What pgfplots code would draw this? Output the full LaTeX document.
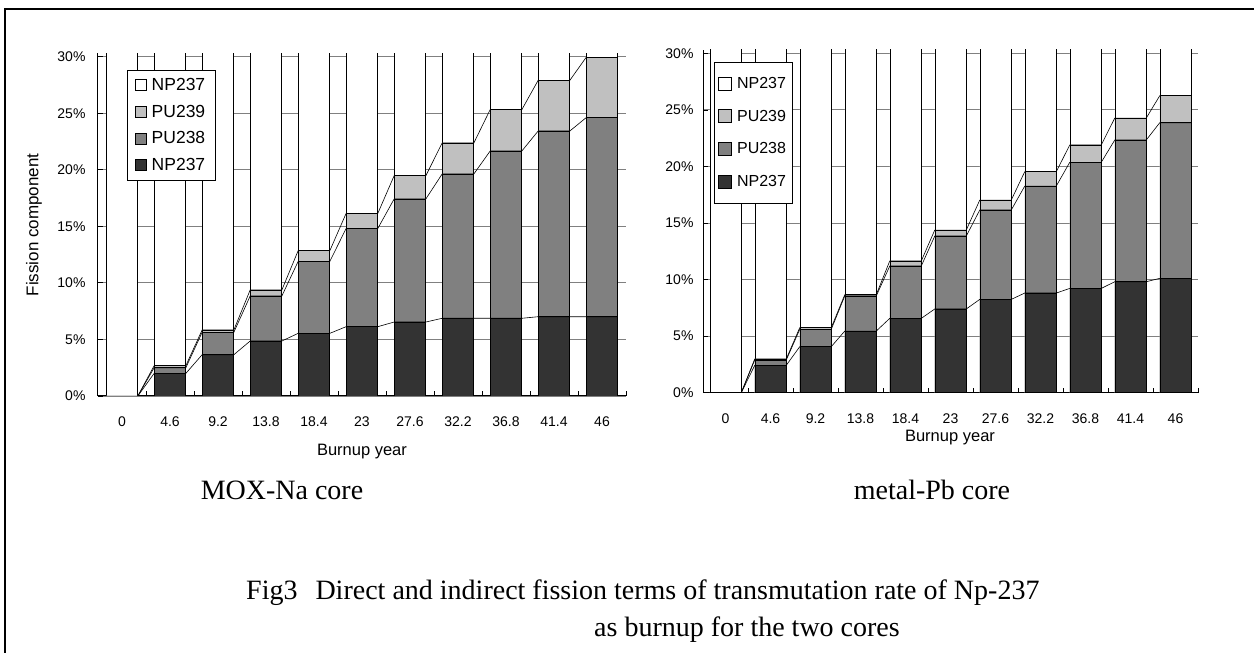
\documentclass[border=0pt]{standalone}
\usepackage{fontspec}
\setmainfont{Liberation Serif}
\newfontfamily\sansf{Liberation Sans}
\usepackage{pgfplots}
\pgfplotsset{compat=1.18}
\usepackage{pgfplotstable}

\definecolor{cNp} {HTML}{333333}
\definecolor{cPu8}{HTML}{808080}
\definecolor{cPu9}{HTML}{C0C0C0}
\definecolor{cGrid}{HTML}{808080}

% cumulative tops of each stack (%), "all" = whole bar (100 %)
\pgfplotstableread{
x all np pu8 pu9
0 100 0.00 0.00 0.00
1 100 2.00 2.50 2.68
2 100 3.65 5.63 5.84
3 100 4.86 8.84 9.37
4 100 5.54 11.90 12.85
5 100 6.13 14.82 16.15
6 100 6.54 17.42 19.48
7 100 6.87 19.63 22.37
8 100 6.87 21.66 25.32
9 100 7.01 23.43 27.91
10 100 7.01 24.61 29.94
}\moxna

\pgfplotstableread{
x all np pu8 pu9
0 100 0.00 0.00 0.00
1 100 2.42 2.89 2.98
2 100 4.07 5.60 5.75
3 100 5.45 8.55 8.66
4 100 6.57 11.20 11.64
5 100 7.40 13.85 14.38
6 100 8.25 16.15 17.03
7 100 8.81 18.27 19.54
8 100 9.22 20.37 21.90
9 100 9.81 22.34 24.28
10 100 10.11 23.87 26.26
}\metalpb

\pgfplotsset{
  corebase/.style={
    scale only axis,
    height = 342.7pt,
    xmin = -0.5, xmax = 10.5,
    ymin = 0,    ymax = 30.3,
    axis x line* = bottom,
    axis y line* = left,
    axis line style = {black, line width=1pt},
    xtick = {0.5,1.5,...,10.5},
    xticklabels = {},
    extra x ticks = {0,...,10},
    extra x tick labels = {0,4.6,9.2,13.8,18.4,23,27.6,32.2,36.8,41.4,46},
    extra x tick style = {major tick length=0pt, grid=none},
    ytick = {0,5,...,30},
    yticklabel = {\pgfmathprintnumber{\tick}\%},
    /pgf/number format/assume math mode=true,
    ymajorgrids,
    grid style = {cGrid, line width=0.9pt},
    tick align = inside,
    major tick length = 5pt,
    tick style = {black, line width=0.8pt},
    tick label style = {font=\sansf\fontsize{14}{16}\selectfont},
    xticklabel style = {anchor=center, yshift=-26pt},
    legend cell align = left,
  },
  stackbar/.style={
    ybar, bar shift=0pt, draw=black, line width=0.8pt,
  },
  serline/.style={sharp plot, black, line width=0.6pt, forget plot},
}

\begin{document}
\begin{tikzpicture}[x=1pt,y=1pt]
\useasboundingbox (0,0) rectangle (1254,653);
\draw[black, line width=1.5pt] (5,-10) rectangle (1270,644);

% ---------------- left: MOX-Na core ----------------
\begin{axis}[
  corebase,
  at = {(98pt,257pt)}, anchor = south west,
  width = 528pt,
  bar width = 0.66,
  yticklabel style = {xshift=-9pt},
  legend image code/.code={
    \draw[#1,/tikz/.cd,yshift=-5.5pt] (4pt,0pt) rectangle (15pt,11pt);},
  legend style = {
    at = {(0.054,0.952)}, anchor = north west,
    draw = black, line width = 0.8pt, fill = white,
    font = \sansf\fontsize{17.5}{19}\selectfont,
    row sep = 9pt, inner xsep = 8pt, inner ysep = 6pt,
    /tikz/every odd column/.append style={column sep=3pt},
  },
]
\addplot[stackbar, fill=white] table[x=x, y=all] {\moxna};
\addlegendentry{NP237}
\addplot[stackbar, fill=cPu9] table[x=x, y=pu9] {\moxna};
\addlegendentry{PU239}
\addplot[stackbar, fill=cPu8] table[x=x, y=pu8] {\moxna};
\addlegendentry{PU238}
\addplot[stackbar, fill=cNp] table[x=x, y=np] {\moxna};
\addlegendentry{NP237}

% series lines between bars
\addplot[serline] coordinates {
  (0.33,0)(0.67,2.00)(1.33,2.00)(1.67,3.65)(2.33,3.65)(2.67,4.86)(3.33,4.86)
  (3.67,5.54)(4.33,5.54)(4.67,6.13)(5.33,6.13)(5.67,6.54)(6.33,6.54)
  (6.67,6.87)(7.33,6.87)(7.67,6.87)(8.33,6.87)(8.67,7.01)(9.33,7.01)(9.67,7.01)(10.33,7.01)};
\addplot[serline] coordinates {
  (0.33,0)(0.67,2.50)(1.33,2.50)(1.67,5.63)(2.33,5.63)(2.67,8.84)(3.33,8.84)
  (3.67,11.90)(4.33,11.90)(4.67,14.82)(5.33,14.82)(5.67,17.42)(6.33,17.42)
  (6.67,19.63)(7.33,19.63)(7.67,21.66)(8.33,21.66)(8.67,23.43)(9.33,23.43)(9.67,24.61)(10.33,24.61)};
\addplot[serline] coordinates {
  (0.33,0)(0.67,2.68)(1.33,2.68)(1.67,5.84)(2.33,5.84)(2.67,9.37)(3.33,9.37)
  (3.67,12.85)(4.33,12.85)(4.67,16.15)(5.33,16.15)(5.67,19.48)(6.33,19.48)
  (6.67,22.37)(7.33,22.37)(7.67,25.32)(8.33,25.32)(8.67,27.91)(9.33,27.91)(9.67,29.94)(10.33,29.94)};
\end{axis}

% ---------------- right: metal-Pb core ----------------
\begin{axis}[
  corebase,
  at = {(703pt,260.3pt)}, anchor = south west,
  width = 495pt,
  bar width = 0.69,
  yticklabel style = {xshift=-6pt},
  legend image code/.code={
    \draw[#1,/tikz/.cd,yshift=-6.5pt] (3pt,0pt) rectangle (16pt,13pt);},
  legend style = {
    at = {(0.022,0.965)}, anchor = north west,
    draw = black, line width = 0.8pt, fill = white,
    font = \sansf\fontsize{16}{18}\selectfont,
    row sep = 16pt, inner xsep = 4pt, inner ysep = 13pt,
    /tikz/every odd column/.append style={column sep=3pt},
  },
]
\addplot[stackbar, fill=white] table[x=x, y=all] {\metalpb};
\addlegendentry{NP237}
\addplot[stackbar, fill=cPu9] table[x=x, y=pu9] {\metalpb};
\addlegendentry{PU239}
\addplot[stackbar, fill=cPu8] table[x=x, y=pu8] {\metalpb};
\addlegendentry{PU238}
\addplot[stackbar, fill=cNp] table[x=x, y=np] {\metalpb};
\addlegendentry{NP237}

\addplot[serline] coordinates {
  (0.35,0)(0.65,2.42)(1.35,2.42)(1.65,4.07)(2.35,4.07)(2.65,5.45)(3.35,5.45)
  (3.65,6.57)(4.35,6.57)(4.65,7.40)(5.35,7.40)(5.65,8.25)(6.35,8.25)
  (6.65,8.81)(7.35,8.81)(7.65,9.22)(8.35,9.22)(8.65,9.81)(9.35,9.81)(9.65,10.11)(10.35,10.11)};
\addplot[serline] coordinates {
  (0.35,0)(0.65,2.89)(1.35,2.89)(1.65,5.60)(2.35,5.60)(2.65,8.55)(3.35,8.55)
  (3.65,11.20)(4.35,11.20)(4.65,13.85)(5.35,13.85)(5.65,16.15)(6.35,16.15)
  (6.65,18.27)(7.35,18.27)(7.65,20.37)(8.35,20.37)(8.65,22.34)(9.35,22.34)(9.65,23.87)(10.35,23.87)};
\addplot[serline] coordinates {
  (0.35,0)(0.65,2.98)(1.35,2.98)(1.65,5.75)(2.35,5.75)(2.65,8.66)(3.35,8.66)
  (3.65,11.64)(4.35,11.64)(4.65,14.38)(5.35,14.38)(5.65,17.03)(6.35,17.03)
  (6.65,19.54)(7.35,19.54)(7.65,21.90)(8.35,21.90)(8.65,24.28)(9.35,24.28)(9.65,26.26)(10.35,26.26)};
\end{axis}

% axis titles and captions
\node[rotate=90, font=\sansf\fontsize{17}{19}\selectfont] at (34,428) {Fission component};
\node[font=\sansf\fontsize{16.5}{18}\selectfont] at (362,201) {Burnup year};
\node[font=\sansf\fontsize{16.5}{18}\selectfont] at (950,215) {Burnup year};
\node[font=\fontsize{28}{30}\selectfont] at (282,163) {MOX-Na core};
\node[font=\fontsize{28}{30}\selectfont] at (932,163) {metal-Pb core};
\node[font=\fontsize{28}{30}\selectfont, anchor=west, inner sep=0pt] at (246,60)
  {Fig3\hspace{18pt}Direct and indirect fission terms of transmutation rate of Np-237};
\node[font=\fontsize{28}{30}\selectfont, anchor=west, inner sep=0pt] at (594,23)
  {as burnup for the two cores};
\end{tikzpicture}
\end{document}
